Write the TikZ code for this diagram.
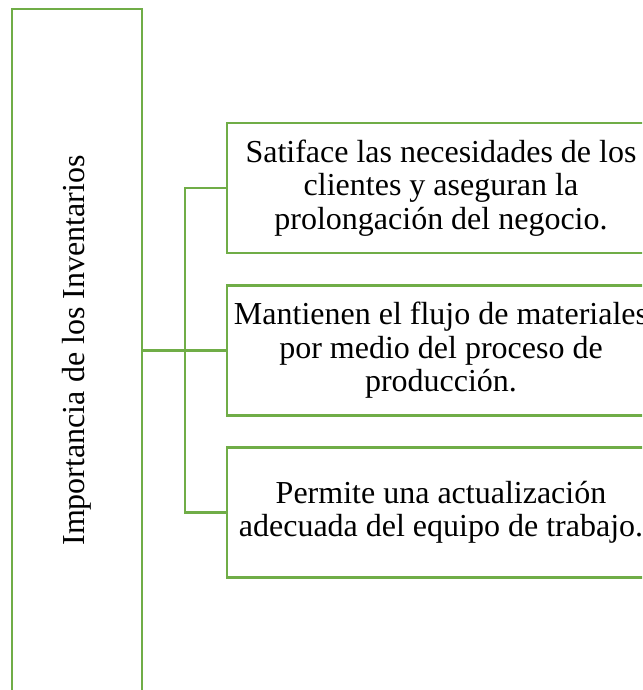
\documentclass[tikz,border=0pt]{standalone}
\usepackage{fontspec}
\setmainfont{Liberation Serif}
\usepackage{tikz}
\usetikzlibrary{positioning}
\definecolor{boxgreen}{RGB}{112,173,71}

\begin{document}
\begin{tikzpicture}[x=1pt,y=-1pt,
        txt/.style={font=\fontsize{32}{33.5}\selectfont},
        mainbox/.style={draw=boxgreen, line width=2.5pt, inner sep=0pt, rotate=90,
            minimum width=683pt, minimum height=130pt, txt},
        itembox/.style={draw=boxgreen, line width=2.5pt, inner sep=0pt, align=center,
            minimum width=428pt, minimum height=130pt, txt},
        link/.style={draw=boxgreen, line width=2.5pt}]
    \useasboundingbox (0,0) rectangle (642,690);
    \clip (0,0) rectangle (642,690);

        \node [mainbox] (imp) at (77,350.5) {Importancia de los Inventarios};
        \node [itembox] (b1) at (441,188) {Satiface las necesidades de los\\clientes y aseguran la\\prolongación del negocio.};
        \node [itembox] (b2) at (441,350.5) {Mantienen el flujo de materiales\\por medio del proceso de\\producción.};
        \node [itembox] (b3) at (441,512.5) {Permite una actualización\\adecuada del equipo de trabajo.};
        \coordinate (fork) at (185,350.5);

    \draw[link] (imp.south) -- (b2.west);
    \draw[link] (b1.west) -| (fork) |- (b3.west);
    \end{tikzpicture}
\end{document}
